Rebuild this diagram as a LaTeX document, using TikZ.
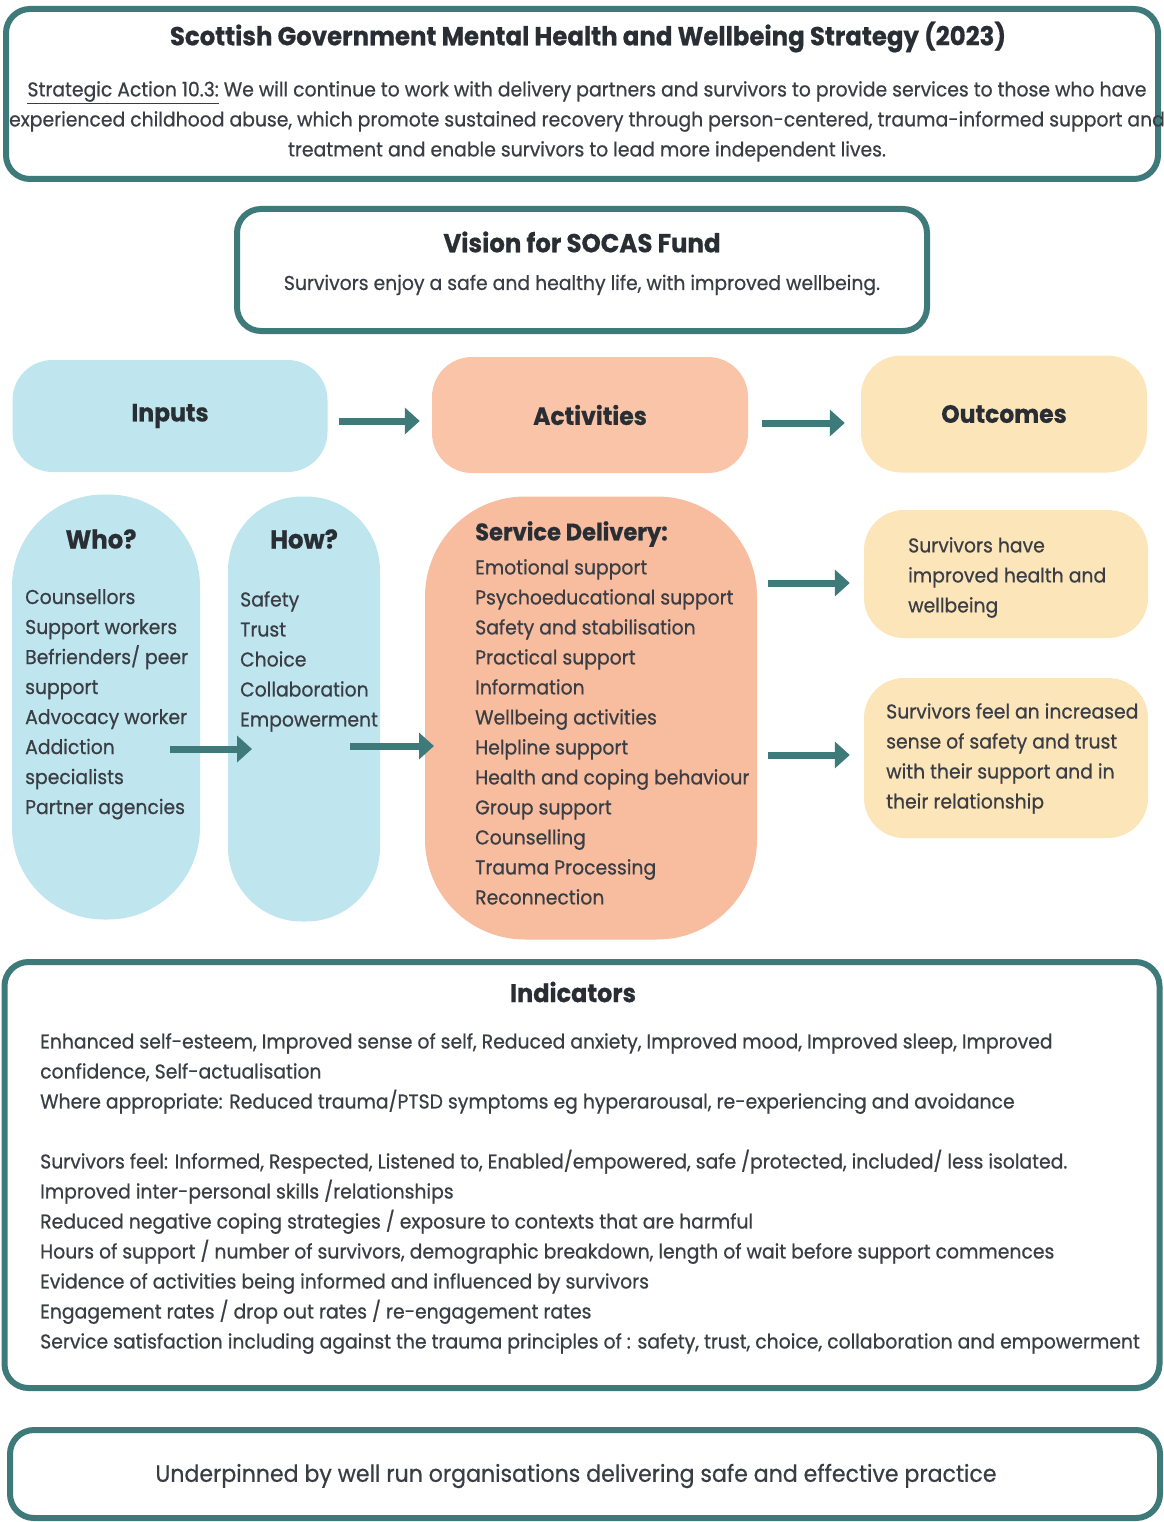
\documentclass[tikz,border=0pt]{standalone}
\usepackage{fontspec}
\setmainfont{Poppins}[FakeStretch=0.94, FakeBold=0.6]
\usetikzlibrary{arrows.meta}
\definecolor{tealc}{RGB}{62,122,122}
\definecolor{lblue}{RGB}{191,229,238}
\definecolor{salmonA}{RGB}{249,196,168}
\definecolor{salmonB}{RGB}{248,188,158}
\definecolor{lyellow}{RGB}{253,229,186}
\definecolor{txt}{RGB}{58,62,68}
\definecolor{ttlc}{RGB}{40,46,52}
\tikzset{
  outbox/.style={draw=tealc, line width=6pt, rounded corners=24pt, fill=white},
  softbox/.style={draw=none, rounded corners=40pt, font=\fontsize{25}{30}\selectfont\bfseries, text=ttlc},
  ttl/.style={font=\fontsize{26}{30}\selectfont\bfseries, text=ttlc, inner sep=0pt},
  body/.style={font=\fontsize{20}{30}\selectfont, text=txt, inner sep=0pt},
  listtxt/.style={body, align=left, anchor=north west},
  arr/.style={draw=tealc, line width=7pt, -{Triangle[length=15pt,width=26pt]}},
}
\begin{document}
\begin{tikzpicture}[x=1pt,y=-1pt]
\useasboundingbox (0,0) rectangle (1163,1522);
% top strategy box
\node[outbox, minimum width=1152pt, minimum height=170pt] (strategy) at (582,94) {};
\node[ttl] (stitle) at (588,37) {Scottish Government Mental Health and Wellbeing Strategy (2023)};
\node[body, align=center, anchor=north] (saction) at (587,81) {\underline{Strategic Action 10.3:} We will continue to work with delivery partners and survivors to provide services to those who have\\experienced childhood abuse, which promote sustained recovery through person-centered, trauma-informed support and\\treatment and enable survivors to lead more independent lives.};
% vision
\node[outbox, minimum width=690pt, minimum height=122pt] (vision) at (582,270) {};
\node[ttl] (vtitle) at (582,242) {Vision for SOCAS Fund};
\node[body] (vtext) at (582,285) {Survivors enjoy a safe and healthy life, with improved wellbeing.};
% row headers
\node[softbox, fill=lblue, minimum width=315pt, minimum height=112pt] (inputs) at (170,416) {Inputs};
\node[softbox, fill=salmonA, minimum width=316pt, minimum height=116pt] (activities) at (590,415) {Activities};
\node[softbox, fill=lyellow, minimum width=286pt, minimum height=117pt] (outcomes) at (1004,414) {Outcomes};
\draw[arr, shorten <=11pt, shorten >=12pt] ([yshift=-5pt]inputs.east) -- ([yshift=-6pt]activities.west);
\draw[arr, shorten <=14pt, shorten >=16pt] ([yshift=-8pt]activities.east) -- ([yshift=-9pt]outcomes.west);
% who / how
\node[draw=none, fill=lblue, rounded corners=92pt, minimum width=188pt, minimum height=425pt] (who) at (106,707) {};
\node[ttl] (whot) at (101,539) {Who?};
\node[listtxt] (wholist) at (25,589) {Counsellors\\Support workers\\Befrienders/ peer\\support\\Advocacy worker\\Addiction\\specialists\\Partner agencies};
\node[draw=none, fill=lblue, rounded corners=74pt, minimum width=152pt, minimum height=425pt] (how) at (304,709) {};
\node[ttl] (howt) at (304,539) {How?};
\node[listtxt] (howlist) at (240,591) {Safety\\Trust\\Choice\\Collaboration\\Empowerment};
% service delivery
\node[draw=none, fill=salmonB, rounded corners=100pt, minimum width=332pt, minimum height=443pt] (service) at (591,718) {};
\node[ttl, font=\fontsize{24}{30}\selectfont\bfseries, anchor=west] (servt) at (475,534) {Service Delivery:};
\node[listtxt] (servlist) at (475,559) {Emotional support\\Psychoeducational support\\Safety and stabilisation\\Practical support\\Information\\Wellbeing activities\\Helpline support\\Health and coping behaviour\\Group support\\Counselling\\Trauma Processing\\Reconnection};
\coordinate (w2hs) at (170,749);
\coordinate (w2he) at (252,749);
\coordinate (h2ss) at (350,746);
\coordinate (h2se) at (434,746);
\draw[arr] (w2hs) -- (w2he);
\draw[arr] (h2ss) -- (h2se);
% outcomes
\node[draw=none, fill=lyellow, rounded corners=40pt, minimum width=284pt, minimum height=128pt] (out1) at (1006,574) {};
\node[listtxt] (out1t) at (908,537) {Survivors have\\improved health and\\wellbeing};
\node[draw=none, fill=lyellow, rounded corners=40pt, minimum width=284pt, minimum height=160pt] (out2) at (1006,758) {};
\node[listtxt] (out2t) at (886,703) {Survivors feel an increased\\sense of safety and trust\\with their support and in\\their relationship};
\coordinate (s2o1) at (768,583);
\coordinate (s2o2) at (768,755);
\draw[arr, shorten >=14pt] (s2o1) -- (out1.west |- s2o1);
\draw[arr, shorten >=14pt] (s2o2) -- (out2.west |- s2o2);
% indicators
\node[outbox, minimum width=1155pt, minimum height=426pt] (ind) at (582,1175) {};
\node[ttl, font=\fontsize{25.5}{30}\selectfont\bfseries] (indt) at (573,992) {Indicators};
\node[listtxt] (indlist) at (40,1033) {Enhanced self-esteem, Improved sense of self, Reduced anxiety, Improved mood, Improved sleep, Improved\\confidence, Self-actualisation\\Where appropriate: Reduced trauma/PTSD symptoms eg hyperarousal, re-experiencing and avoidance\\[30pt]Survivors feel: Informed, Respected, Listened to, Enabled/empowered, safe /protected, included/ less isolated.\\Improved inter-personal skills /relationships\\Reduced negative coping strategies / exposure to contexts that are harmful\\Hours of support / number of survivors, demographic breakdown, length of wait before support commences\\Evidence of activities being informed and influenced by survivors\\Engagement rates / drop out rates / re-engagement rates\\Service satisfaction including against the trauma principles of : safety, trust, choice, collaboration and empowerment};
% underpinned
\node[outbox, minimum width=1150pt, minimum height=88pt] (under) at (585,1474) {};
\node[body, font=\fontsize{23.5}{30}\selectfont] (undert) at (576,1476) {Underpinned by well run organisations delivering safe and effective practice};
\end{tikzpicture}
\end{document}
